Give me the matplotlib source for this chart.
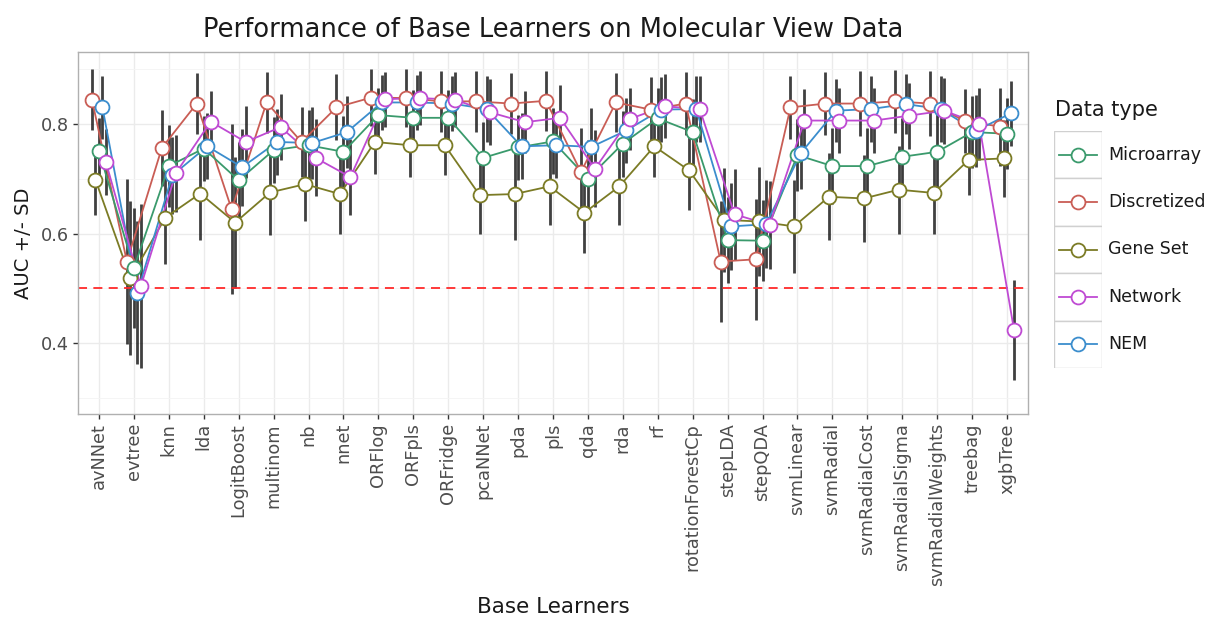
import numpy as np
import matplotlib
matplotlib.use('Agg')
import matplotlib.pyplot as plt
from matplotlib.patches import Rectangle

plt.rcParams['font.family'] = ['DejaVu Sans']

learners = ['avNNet', 'evtree', 'knn', 'lda', 'LogitBoost', 'multinom', 'nb', 'nnet',
            'ORFlog', 'ORFpls', 'ORFridge', 'pcaNNet', 'pda', 'pls', 'qda', 'rda', 'rf',
            'rotationForestCp', 'stepLDA', 'stepQDA', 'svmLinear', 'svmRadial',
            'svmRadialCost', 'svmRadialSigma', 'svmRadialWeights', 'treebag', 'xgbTree']

microarray_auc = [0.750, 0.537, 0.723, 0.755, 0.697, 0.752, 0.761, 0.749, 0.816, 0.811, 0.811,
                  0.738, 0.757, 0.768, 0.700, 0.764, 0.810, 0.785, 0.588, 0.587, 0.743, 0.723,
                  0.723, 0.740, 0.749, 0.785, 0.782]
microarray_sd = [0.060, 0.110, 0.075, 0.060, 0.070, 0.060, 0.065, 0.065, 0.050, 0.050, 0.050,
                 0.065, 0.060, 0.060, 0.070, 0.060, 0.055, 0.060, 0.078, 0.074, 0.065, 0.070,
                 0.070, 0.070, 0.070, 0.065, 0.065]

discretized_auc = [0.844, 0.549, 0.756, 0.837, 0.644, 0.839, 0.767, 0.830, 0.848, 0.847, 0.841,
                   0.841, 0.837, 0.842, 0.712, 0.839, 0.826, 0.837, 0.549, 0.553, 0.830, 0.837,
                   0.837, 0.841, 0.837, 0.805, 0.795]
discretized_sd = [0.056, 0.150, 0.070, 0.055, 0.155, 0.055, 0.063, 0.060, 0.052, 0.053, 0.056,
                  0.056, 0.055, 0.055, 0.080, 0.053, 0.060, 0.057, 0.110, 0.110, 0.058, 0.057,
                  0.060, 0.057, 0.060, 0.058, 0.071]

geneset_auc = [0.698, 0.519, 0.629, 0.673, 0.620, 0.675, 0.690, 0.672, 0.767, 0.761, 0.761,
               0.670, 0.672, 0.686, 0.638, 0.686, 0.759, 0.715, 0.625, 0.622, 0.613, 0.667,
               0.664, 0.680, 0.674, 0.734, 0.737]
geneset_sd = [0.064, 0.140, 0.085, 0.085, 0.120, 0.078, 0.067, 0.072, 0.058, 0.057, 0.055,
              0.070, 0.084, 0.070, 0.074, 0.070, 0.056, 0.072, 0.095, 0.100, 0.085, 0.079,
              0.080, 0.080, 0.074, 0.064, 0.070]

network_auc = [0.730, 0.504, 0.710, 0.804, 0.767, 0.794, 0.738, 0.703, 0.845, 0.847, 0.844,
               0.821, 0.803, 0.811, 0.718, 0.809, 0.832, 0.827, 0.635, 0.616, 0.806, 0.806,
               0.806, 0.815, 0.824, 0.800, 0.424]
network_sd = [0.060, 0.150, 0.070, 0.055, 0.066, 0.060, 0.070, 0.070, 0.050, 0.050, 0.050,
              0.060, 0.057, 0.060, 0.070, 0.057, 0.058, 0.060, 0.083, 0.080, 0.057, 0.060,
              0.060, 0.060, 0.060, 0.066, 0.091]

nem_auc = [0.830, 0.492, 0.706, 0.759, 0.721, 0.767, 0.765, 0.785, 0.839, 0.839, 0.837,
           0.827, 0.759, 0.761, 0.758, 0.788, 0.826, 0.827, 0.613, 0.617, 0.747, 0.824,
           0.827, 0.836, 0.827, 0.787, 0.819]
nem_sd = [0.058, 0.130, 0.070, 0.060, 0.070, 0.060, 0.065, 0.065, 0.050, 0.050, 0.050,
          0.060, 0.060, 0.060, 0.070, 0.060, 0.060, 0.060, 0.080, 0.080, 0.065, 0.057,
          0.060, 0.055, 0.060, 0.065, 0.060]

legend_order = ['Microarray', 'Discretized', 'Gene Set', 'Network', 'NEM']
dodge_order = ['Discretized', 'Gene Set', 'Microarray', 'NEM', 'Network']

series = {
    'Microarray': (microarray_auc, microarray_sd, '#3a9a6c'),
    'Discretized': (discretized_auc, discretized_sd, '#c95d55'),
    'Gene Set': (geneset_auc, geneset_sd, '#7b7b25'),
    'Network': (network_auc, network_sd, '#bf4ad3'),
    'NEM': (nem_auc, nem_sd, '#3b8dcd'),
}

W, H = 1206, 621
fig = plt.figure(figsize=(W / 100, H / 100), dpi=100)
ax = fig.add_axes([78 / W, 1 - 414 / H, 950 / W, 362 / H])

x = np.arange(1, len(learners) + 1)
dodge_width = 0.5
n = len(dodge_order)

for i, name in enumerate(dodge_order):
    auc, sd, col = series[name]
    auc = np.array(auc); sd = np.array(sd)
    off = (i - (n - 1) / 2) * dodge_width / n
    ax.vlines(x + off, auc - sd, auc + sd, color='black', alpha=0.75, lw=2.0, zorder=2)
for i, name in enumerate(dodge_order):
    auc, sd, col = series[name]
    off = (i - (n - 1) / 2) * dodge_width / n
    ax.plot(x + off, auc, color=col, lw=1.3, zorder=3)
for i, name in enumerate(dodge_order):
    auc, sd, col = series[name]
    off = (i - (n - 1) / 2) * dodge_width / n
    ax.plot(x + off, auc, ls='none', marker='o', ms=10, mfc='white', mec=col, mew=1.3, zorder=4)

ax.axhline(0.5, color='#ff2a2a', lw=1.3, ls=(0, (5, 3.5)), zorder=2.5)

ax.set_xlim(0.4, len(learners) + 0.6)
ax.set_ylim(0.271, 0.931)
ax.set_xticks(x)
ax.set_xticklabels(learners, rotation=90, fontsize=12.8, color='#4d4d4d')
ax.set_yticks([0.4, 0.6, 0.8])
ax.set_yticklabels(['0.4', '0.6', '0.8'], fontsize=12.8, color='#4d4d4d')
ax.set_yticks([0.3, 0.5, 0.7, 0.9], minor=True)
ax.tick_params(axis='both', which='major', length=3.5, width=1, color='#333333', pad=3)
ax.tick_params(axis='y', which='minor', length=0)
ax.grid(True, which='major', color='#ebebeb', lw=1.0, zorder=0)
ax.grid(True, which='minor', axis='y', color='#f4f4f4', lw=0.6, zorder=0)
ax.set_axisbelow(True)
for s in ax.spines.values():
    s.set_color('#b0b0b0')
    s.set_linewidth(1.0)

fig.text(553 / W, 1 - 30 / H, 'Performance of Base Learners on Molecular View Data',
         fontsize=18.5, ha='center', va='center', color='#1a1a1a')
fig.text(553 / W, 1 - 607 / H, 'Base Learners', fontsize=15.5, ha='center', va='center', color='#1a1a1a')
fig.text(24 / W, 1 - 243 / H, 'AUC +/- SD', fontsize=14, ha='center', va='center',
         rotation=90, color='#1a1a1a')

# legend
fig.text(1055 / W, 1 - 110 / H, 'Data type', fontsize=15, ha='left', va='center', color='#1a1a1a')
key_top, key_h, key_left, key_w = 131, 47.4, 1054, 48
lax = fig.add_axes([key_left / W, 1 - (key_top + 5 * key_h) / H, key_w / W, 5 * key_h / H])
lax.set_xlim(0, 1)
lax.set_ylim(5, 0)
lax.axis('off')
for j, name in enumerate(legend_order):
    col = series[name][2]
    lax.add_patch(Rectangle((0, j), 1, 1, facecolor='white', edgecolor='#d0d0d0', lw=1.0))
    lax.plot([0.1, 0.9], [j + 0.5, j + 0.5], color=col, lw=1.3)
    lax.plot([0.5], [j + 0.5], marker='o', ms=10, mfc='white', mec=col, mew=1.3)
    fig.text(1108 / W, 1 - (key_top + (j + 0.5) * key_h) / H, name, fontsize=12.5,
             ha='left', va='center', color='#1a1a1a')

fig.savefig('out.png', dpi=100)
